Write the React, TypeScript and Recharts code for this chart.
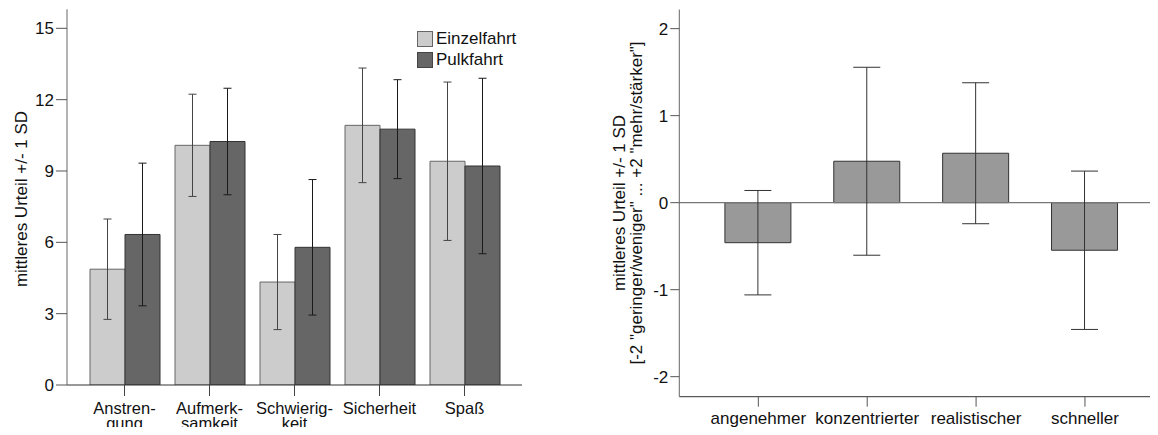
import React from 'react';
import { BarChart, Bar, XAxis, YAxis, ErrorBar, ReferenceLine, Legend } from 'recharts';

// ---- left chart data ----
const aspects = ['Anstren-\ngung', 'Aufmerk-\nsamkeit', 'Schwierig-\nkeit', 'Sicherheit', 'Spaß'];
const einzelMean = [4.87, 10.08, 4.33, 10.92, 9.41];
const einzelSd = [2.11, 2.15, 2.0, 2.41, 3.33];
const pulkMean = [6.33, 10.24, 5.79, 10.76, 9.21];
const pulkSd = [3.0, 2.24, 2.85, 2.08, 3.69];
const leftTicks = [0, 3, 6, 9, 12, 15];
const seriesNames = ['Einzelfahrt', 'Pulkfahrt'];

// ---- right chart data ----
const comparisons = ['angenehmer', 'konzentrierter', 'realistischer', 'schneller'];
const diffMean = [-0.46, 0.476, 0.568, -0.547];
const diffSd = [0.6, 1.08, 0.81, 0.91];
const rightTicks = [-2, -1, 0, 1, 2];

const leftData = aspects.map((a, i) => ({
  name: a,
  einzel: einzelMean[i],
  einzelSd: einzelSd[i],
  pulk: pulkMean[i],
  pulkSd: pulkSd[i],
}));

const rightData = comparisons.map((c, i) => ({ name: c, mean: diffMean[i], sd: diffSd[i] }));

const FONT = '"Liberation Sans", Arial, Helvetica, sans-serif';
const FS = 17;

const LeftTick = (props: any) => {
  const { x, y, payload } = props;
  const lines = String(payload.value).split('\n');
  return (
    <text x={x} y={y} textAnchor="middle" fontSize={16.5} fill="#111" fontFamily={FONT}>
      {lines.map((l, i) => (
        <tspan key={i} x={x} dy={i === 0 ? 17.5 : 15.5}>
          {l}
        </tspan>
      ))}
    </text>
  );
};

const RightTick = (props: any) => {
  const { x, y, payload } = props;
  return (
    <text x={x} y={y} dy={17} textAnchor="middle" fontSize={FS} fill="#111" fontFamily={FONT}>
      {payload.value}
    </text>
  );
};

const LeftYLabel = () => {
  const cy = 199;
  const cx = 21;
  return (
    <text
      x={cx}
      y={cy}
      transform={`rotate(-90 ${cx} ${cy})`}
      textAnchor="middle"
      dominantBaseline="central"
      fontSize={FS}
      fill="#111"
      fontFamily={FONT}
    >
      mittleres Urteil +/- 1 SD
    </text>
  );
};

const RightYLabel = () => {
  const cy = 203;
  const x1 = 59.5;
  const x2 = 76.7;
  return (
    <g>
      <text
        x={x1}
        y={cy}
        transform={`rotate(-90 ${x1} ${cy})`}
        textAnchor="middle"
        dominantBaseline="central"
        fontSize={FS}
        fill="#111"
        fontFamily={FONT}
      >
        mittleres Urteil +/- 1 SD
      </text>
      <text
        x={x2}
        y={cy}
        transform={`rotate(-90 ${x2} ${cy})`}
        textAnchor="middle"
        dominantBaseline="central"
        fontSize={FS}
        fill="#111"
        fontFamily={FONT}
      >
        [-2 "geringer/weniger" ... +2 "mehr/stärker"]
      </text>
    </g>
  );
};

const legendColors = ['#cccccc', '#666666'];
const legendStrokes = ['#666666', '#444444'];

const LegendBox = () => (
  <div style={{ fontFamily: FONT, fontSize: FS, color: '#111' }}>
    {seriesNames.map((n, i) => (
      <div key={n} style={{ display: 'flex', alignItems: 'center', height: 20.7 }}>
        <div
          style={{
            width: 14,
            height: 14,
            background: legendColors[i],
            border: `1px solid ${legendStrokes[i]}`,
            marginRight: 3,
            boxSizing: 'content-box',
          }}
        />
        <span style={{ lineHeight: '20px', whiteSpace: 'nowrap' }}>{n}</span>
      </div>
    ))}
  </div>
);

export default function App() {
  return (
    <div
      style={{
        position: 'relative',
        width: 1158,
        height: 435,
        margin: -8,
        overflow: 'hidden',
        background: '#fff',
        fontFamily: FONT,
      }}
    >
      <div style={{ position: 'absolute', left: 0, top: 0 }}>
        <BarChart
          width={540}
          height={435}
          data={leftData}
          margin={{ top: 9.3, right: 18, bottom: 0, left: 0 }}
          barGap={0}
          barSize={35}
        >
          <XAxis
            dataKey="name"
            height={50}
            interval={0}
            padding={{ left: 15, right: 15 }}
            tickSize={11}
            tickMargin={0}
            tickLine={{ stroke: '#444' }}
            axisLine={{ stroke: '#333' }}
            tick={<LeftTick />}
          />
          <XAxis
            xAxisId="top"
            orientation="top"
            dataKey="name"
            height={0}
            tick={false}
            tickLine={false}
            axisLine={{ stroke: '#666' }}
          />
          <YAxis
            width={67}
            domain={[0, 15.8]}
            ticks={leftTicks}
            allowDataOverflow
            tickSize={11}
            tickMargin={2}
            tickLine={{ stroke: '#555' }}
            axisLine={{ stroke: '#666' }}
            tick={{ fill: '#111', fontSize: FS, fontFamily: FONT }}
            label={<LeftYLabel />}
          />
          <YAxis
            yAxisId="right"
            orientation="right"
            width={0}
            domain={[0, 15.8]}
            tick={false}
            tickLine={false}
            axisLine={{ stroke: '#333' }}
          />
          <Legend
            layout="vertical"
            align="center"
            verticalAlign="middle"
            wrapperStyle={{ position: 'absolute', left: 417, top: 29, width: 110, height: 42 }}
            content={() => <LegendBox />}
          />
          <Bar dataKey="einzel" name={seriesNames[0]} fill="#cccccc" stroke="#666666" strokeWidth={1} isAnimationActive={false}>
            <ErrorBar dataKey="einzelSd" width={4} stroke="#444" strokeWidth={1} isAnimationActive={false} />
          </Bar>
          <Bar dataKey="pulk" name={seriesNames[1]} fill="#666666" stroke="#333333" strokeWidth={1} isAnimationActive={false}>
            <ErrorBar dataKey="pulkSd" width={4} stroke="#1a1a1a" strokeWidth={1} isAnimationActive={false} />
          </Bar>
        </BarChart>
      </div>

      <div style={{ position: 'absolute', left: 560, top: 0 }}>
        <BarChart
          width={610}
          height={435}
          data={rightData}
          margin={{ top: 9.5, right: 6, bottom: 0, left: 0 }}
          barSize={66}
        >
          <ReferenceLine y={0} stroke="#777" strokeWidth={1.2} />
          <XAxis
            dataKey="name"
            height={38.3}
            interval={0}
            padding={{ left: 24.6, right: 24.6 }}
            tickSize={10}
            tickMargin={0}
            tickLine={{ stroke: '#555' }}
            axisLine={{ stroke: '#333' }}
            tick={<RightTick />}
          />
          <XAxis
            xAxisId="top"
            orientation="top"
            dataKey="name"
            height={0}
            tick={false}
            tickLine={false}
            axisLine={{ stroke: '#777' }}
          />
          <YAxis
            width={119.3}
            domain={[-2.23, 2.22]}
            ticks={rightTicks}
            allowDataOverflow
            tickSize={9}
            tickMargin={2}
            tickLine={{ stroke: '#555' }}
            axisLine={{ stroke: '#666' }}
            tick={{ fill: '#111', fontSize: FS, fontFamily: FONT }}
            label={<RightYLabel />}
          />
          <Bar dataKey="mean" fill="#999999" stroke="#333333" strokeWidth={1} isAnimationActive={false}>
            <ErrorBar dataKey="sd" width={13.5} stroke="#333" strokeWidth={1} isAnimationActive={false} />
          </Bar>
        </BarChart>
      </div>
    </div>
  );
}
